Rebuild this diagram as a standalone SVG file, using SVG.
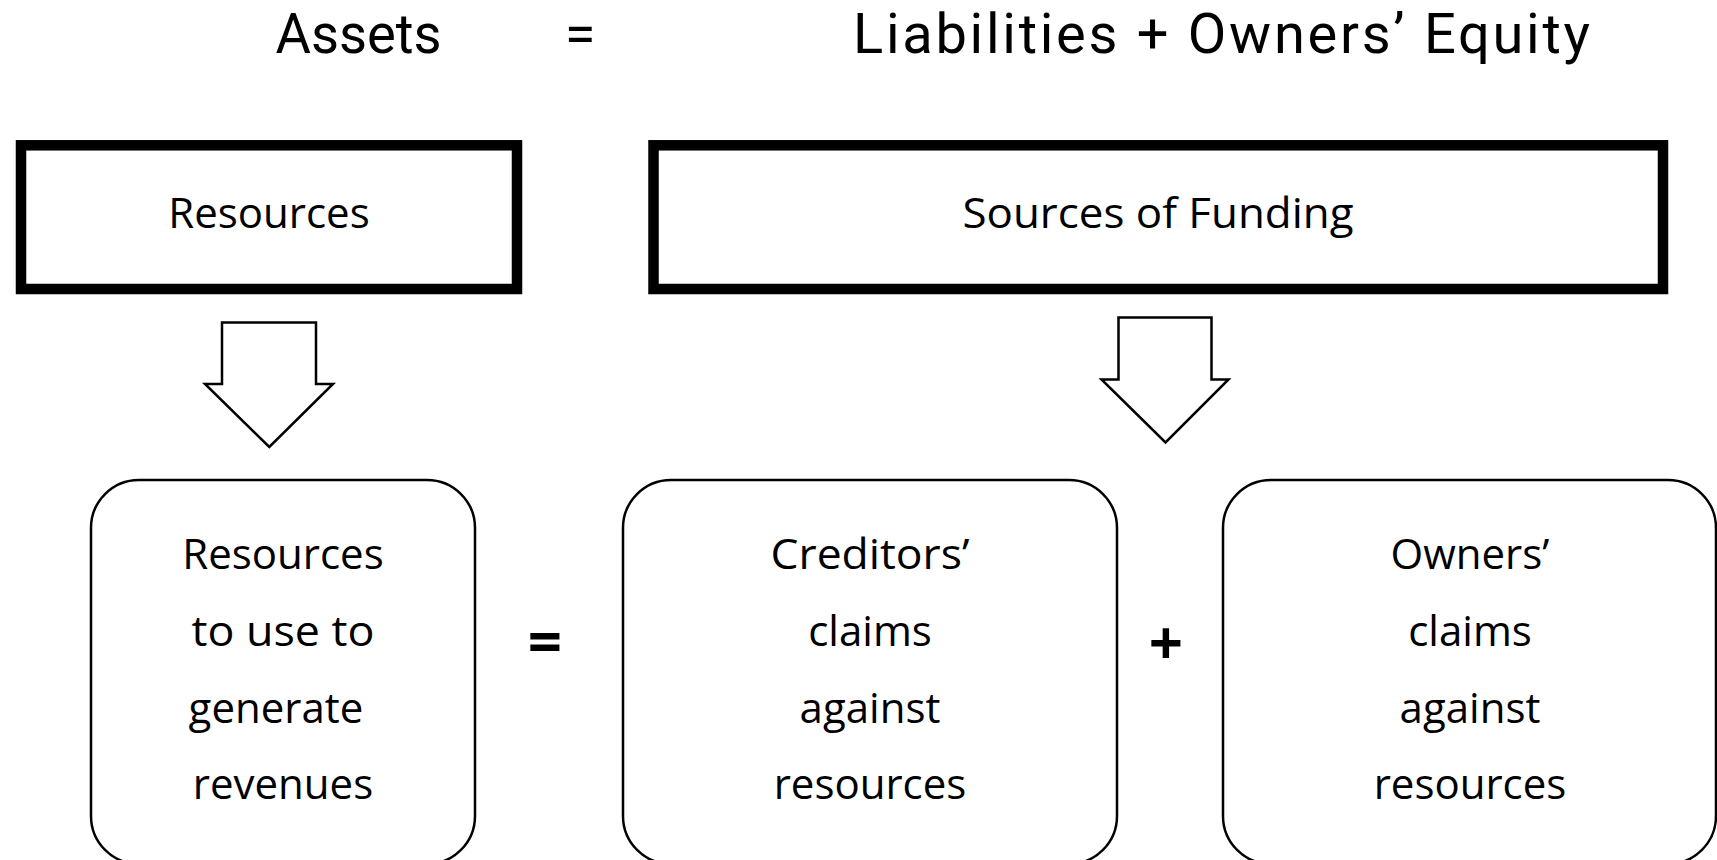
<svg xmlns="http://www.w3.org/2000/svg" width="1717" height="860" viewBox="0 0 1717 860">
<style>
  text { font-family: "Open Sans", "Noto Sans", "DejaVu Sans", sans-serif; fill: #000; }
  .title { font-family: Roboto, "Open Sans", sans-serif; font-size: 56px; }
  .lbl { font-size: 42px; text-anchor: middle; }
  .op { font-size: 60px; font-weight: bold; text-anchor: middle; }
  .thick { fill: #fff; stroke: #000; stroke-width: 10.5; }
  .round { fill: #fff; stroke: #000; stroke-width: 2.5; }
  .arrow { fill: #fff; stroke: #000; stroke-width: 2.5; stroke-linejoin: miter; }
</style>
<rect width="1717" height="860" fill="#fff"/>
<g id="title">
  <text class="title" x="358.5" y="53" text-anchor="middle" textLength="166" lengthAdjust="spacingAndGlyphs">Assets</text>
  <text class="title" x="580" y="53" text-anchor="middle">=</text>
  <text class="title" x="853" y="53" textLength="737" lengthAdjust="spacing">Liabilities + Owners’ Equity</text>
</g>
<g id="resources">
  <rect class="thick" x="21" y="145.3" width="496" height="143.7"/>
  <text class="lbl" x="269" y="228">Resources</text>
</g>
<g id="sources">
  <rect class="thick" x="653.5" y="145.3" width="1009.5" height="143.7"/>
  <text class="lbl" x="1158" y="228" textLength="391" lengthAdjust="spacingAndGlyphs">Sources of Funding</text>
</g>
<g id="connectors">
  <path class="arrow" d="M222,322.5 L316,322.5 L316,384 L333,384 L269.3,447 L205,384 L222,384 Z"/>
  <path class="arrow" d="M1118.5,317.5 L1211.5,317.5 L1211.5,379.5 L1228.5,379.5 L1165.5,442.5 L1101.5,379.5 L1118.5,379.5 Z"/>
</g>
<g id="box-assets">
  <rect class="round" x="91" y="480" width="384" height="384" rx="48" ry="48"/>
  <text class="lbl" x="283" y="569">Resources</text>
  <text class="lbl" x="283" y="646" textLength="183" lengthAdjust="spacingAndGlyphs">to use to</text>
  <text class="lbl" x="276" y="723">generate</text>
  <text class="lbl" x="283" y="799">revenues</text>
</g>
<g id="eq-op">
  <text class="op" x="545" y="663">=</text>
</g>
<g id="box-creditors">
  <rect class="round" x="623" y="480" width="494" height="384" rx="48" ry="48"/>
  <text class="lbl" x="870" y="569" textLength="199" lengthAdjust="spacingAndGlyphs">Creditors’</text>
  <text class="lbl" x="870" y="646">claims</text>
  <text class="lbl" x="870" y="723">against</text>
  <text class="lbl" x="870" y="799">resources</text>
</g>
<g id="plus-op">
  <text class="op" x="1166" y="665">+</text>
</g>
<g id="box-owners">
  <rect class="round" x="1223" y="480" width="493" height="384" rx="48" ry="48"/>
  <text class="lbl" x="1470" y="569">Owners’</text>
  <text class="lbl" x="1470" y="646">claims</text>
  <text class="lbl" x="1470" y="723">against</text>
  <text class="lbl" x="1470" y="799">resources</text>
</g>
</svg>
